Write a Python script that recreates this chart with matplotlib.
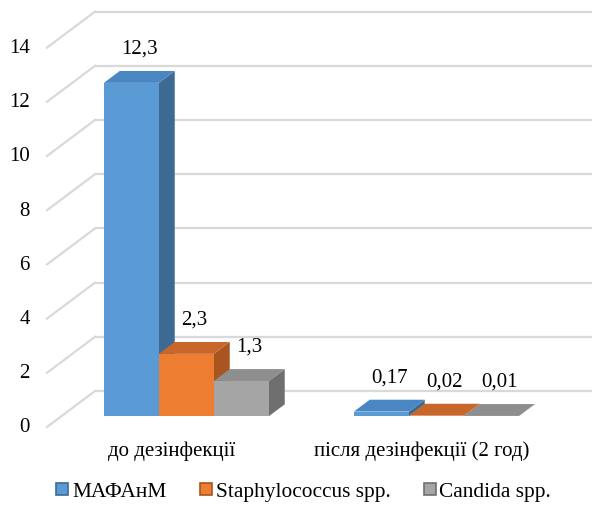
import matplotlib
matplotlib.use("Agg")
import matplotlib.pyplot as plt
from matplotlib.patches import Polygon
from matplotlib.lines import Line2D
from matplotlib import font_manager

names = sorted({f.name for f in font_manager.fontManager.ttflist})
serif = [n for n in ['Liberation Serif', 'Times New Roman', 'DejaVu Serif'] if n in names]
plt.rcParams['font.family'] = 'serif'
plt.rcParams['font.serif'] = serif

categories = ["до дезінфекції", "після дезінфекції (2 год)"]
series_names = ["МАФАнМ", "Staphylococcus spp.", "Candida spp."]
values = {
    "МАФАнМ": [12.3, 0.17],
    "Staphylococcus spp.": [2.3, 0.02],
    "Candida spp.": [1.3, 0.01],
}
labels = {
    "МАФАнМ": ["12,3", "0,17"],
    "Staphylococcus spp.": ["2,3", "0,02"],
    "Candida spp.": ["1,3", "0,01"],
}
yticks = [0, 2, 4, 6, 8, 10, 12, 14]

front_col = ["#5B9BD5", "#ED7D31", "#A5A5A5"]
top_col = ["#4A86C2", "#C9662A", "#8E8E8E"]
side_col = ["#3D6A93", "#A8551F", "#6F6F6F"]

W, H = 592, 506
fig = plt.figure(figsize=(W / 100, H / 100), dpi=100)
ax = fig.add_axes([0, 0, 1, 1])
ax.set_axis_off()

PX_X = 250.0
PX_Y = 27.1
x0_px, y0_px = 47, 428
ax.set_xlim(-x0_px / PX_X, (W - x0_px) / PX_X)
ax.set_ylim(-(H - y0_px) / PX_Y, y0_px / PX_Y)

DX = 48 / PX_X
DY = 36 / PX_Y
ncat = len(categories)
grid_c = "#D9D9D9"
FS = 15

for v in yticks:
    ax.plot([DX, ncat + DX + 0.2], [v + DY, v + DY], color=grid_c, lw=1.6, zorder=1, solid_capstyle='butt')
    ax.plot([0, DX], [v, v + DY], color=grid_c, lw=1.6, zorder=1)
    ax.text(-17 / PX_X, v, str(v), ha='right', va='center', fontsize=FS)

d0 = 0.30
bd = 0.33
bw = 55 / PX_X
for i, cat in enumerate(categories):
    c = i + 0.5
    for j, s in enumerate(series_names):
        v = values[s][i]
        xc = c + (j - 1) * bw + d0 * DX
        base = d0 * DY
        top = base + v
        xl, xr = xc - bw / 2, xc + bw / 2
        ox, oy = bd * DX, bd * DY
        z = 3 + i * 3 + j
        ax.add_patch(Polygon([(xr, base), (xr, top), (xr + ox, top + oy), (xr + ox, base + oy)],
                             closed=True, facecolor=side_col[j], edgecolor='none', zorder=z))
        ax.add_patch(Polygon([(xl, top), (xr, top), (xr + ox, top + oy), (xl + ox, top + oy)],
                             closed=True, facecolor=top_col[j], edgecolor='none', zorder=z))
        ax.bar(xc, v, width=bw, bottom=base, color=front_col[j], edgecolor='none', zorder=z)
        ax.annotate(labels[s][i], (xc + ox / 2, top), xytext=(0, 25), textcoords='offset points',
                    ha='center', va='center', fontsize=FS, zorder=20)

for i, cat in enumerate(categories):
    ax.text(i + 0.5, -(451 - y0_px) / PX_Y, cat, ha='center', va='center', fontsize=FS)

handles = [Line2D([], [], marker='s', linestyle='none', markersize=8.5,
                  markerfacecolor=front_col[j], markeredgecolor=side_col[j], markeredgewidth=1.2)
           for j in range(3)]
fig.legend(handles, series_names, loc='center', bbox_to_anchor=(0.512, 1 - 492 / H), ncol=3,
           frameon=False, fontsize=15.4, handlelength=0.7, handletextpad=0.1, columnspacing=1.5,
           borderaxespad=0)

fig.savefig("out.png", dpi=100)
